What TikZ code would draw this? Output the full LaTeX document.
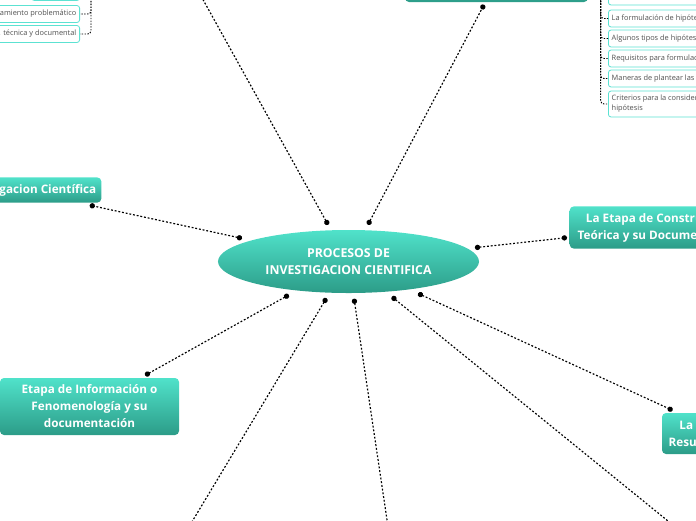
\documentclass[tikz,border=0pt]{standalone}
\usepackage{fontspec}
\setmainfont{Open Sans}
\usetikzlibrary{arrows.meta, shapes.geometric, calc}

\definecolor{tealtop}{RGB}{80,226,202}
\definecolor{tealbot}{RGB}{44,156,136}
\definecolor{subline}{RGB}{92,226,210}
\definecolor{subtext}{RGB}{80,80,80}

\begin{document}
\begin{tikzpicture}[
    x=0.03cm, y=0.03cm,
    core/.style={ellipse, top color=tealtop, bottom color=tealbot, draw=none,
      minimum width=7.83cm, minimum height=1.89cm, inner sep=0pt, outer sep=0.17cm,
      text=white, align=center, font=\fontsize{10.5}{14}\selectfont\bfseries},
    stage/.style={rectangle, rounded corners=0.12cm, top color=tealtop,
      bottom color=tealbot, draw=none, outer sep=0.08cm, inner sep=0.2cm,
      text=white, align=center, font=\fontsize{10}{14.5}\selectfont\bfseries},
    topic/.style={rectangle, rounded corners=0.08cm, draw=subline, line width=0.7pt,
      fill=white, text=subtext, minimum height=0.51cm, inner xsep=0.1cm,
      align=left, font=\fontsize{6.3}{8.5}\selectfont},
    link/.style={{Circle[length=4.5pt]}-{Circle[length=4.5pt]}, line width=1pt,
      dash pattern=on 1.6pt off 1.6pt},
    sublink/.style={line width=0.8pt, dash pattern=on 1.2pt off 1.2pt,
      rounded corners=0.1cm},
  ]
  \useasboundingbox (0,0) rectangle (696,-520);
  \clip (0,0) rectangle (696,-520);

  \node[core] (proc) at (348.5,-261.5) {PROCESOS DE\\INVESTIGACION CIENTIFICA};

  \node[stage, minimum width=5.49cm, minimum height=1.26cm] (hipotesis) at (496.5,19) {};
  \node[stage, anchor=east, inner xsep=0.15cm, minimum height=0.72cm] (cientifica) at (104,-190) {La Investigacion Científica};
  \node[stage, anchor=west, inner xsep=0.24cm, minimum height=1.23cm] (teorica) at (567,-227.5) {La Etapa de Construcción\\Teórica y su Documentación};
  \node[stage, minimum width=5.37cm, minimum height=1.71cm] (informacion) at (89.5,-406.5) {Etapa de Información o\\Fenomenología y su\\documentación};
  \node[stage, minimum width=3.66cm, minimum height=1.23cm] (resultados) at (723,-433.5) {La Etapa de los\\Resultados Finales};

  % branches leaving the picture
  \coordinate (tlbranch) at (181,40);
  \coordinate (blbranch) at (169,-560);
  \coordinate (bmbranch) at (393,-560);
  \coordinate (brbranch) at (716,-560);
  \coordinate (tlroot) at (91,30);

  % sub topics, top right
  \node[topic, anchor=west] (solucion) at (608,3.5) {La solución definitiva del problema};
  \node[topic, anchor=west] (formulacion) at (608,-18.5) {La formulación de hipótesis};
  \node[topic, anchor=west] (tipos) at (608,-38.5) {Algunos tipos de hipótesis};
  \node[topic, anchor=west] (requisitos) at (608,-58.5) {Requisitos para formulación de hipótesis};
  \node[topic, anchor=west] (maneras) at (608,-78.5) {Maneras de plantear las hipótesis};
  \node[topic, anchor=west, minimum height=0.78cm] (criterios) at (608,-104) {Criterios para la consideración de\\hipótesis};

  % sub topics, top left
  \node[topic, anchor=east] (planteo) at (80,8) {El problema};
  \node[topic, anchor=east] (pensamiento) at (80,-14) {El pensamiento problemático};
  \node[topic, anchor=east] (investig) at (80,-34) {Investigación. técnica y documental};

  \draw[link] (proc) -- (tlbranch);
  \draw[link] (proc) -- (hipotesis);
  \draw[link] (proc) -- (cientifica);
  \draw[link] (proc) -- (teorica);
  \draw[link] (proc) -- (informacion);
  \draw[link] (proc) -- (resultados);
  \draw[link] (proc) -- (blbranch);
  \draw[link] (proc) -- (bmbranch);
  \draw[link] (proc) -- (brbranch);

  \foreach \t in {solucion, formulacion, tipos, requisitos, maneras, criterios}
    \draw[sublink] (hipotesis.east) -- ++(10,0) |- (\t.west);
  \foreach \t in {planteo, pensamiento, investig}
    \draw[sublink] (tlroot) |- (\t.east);
\end{tikzpicture}
\end{document}
